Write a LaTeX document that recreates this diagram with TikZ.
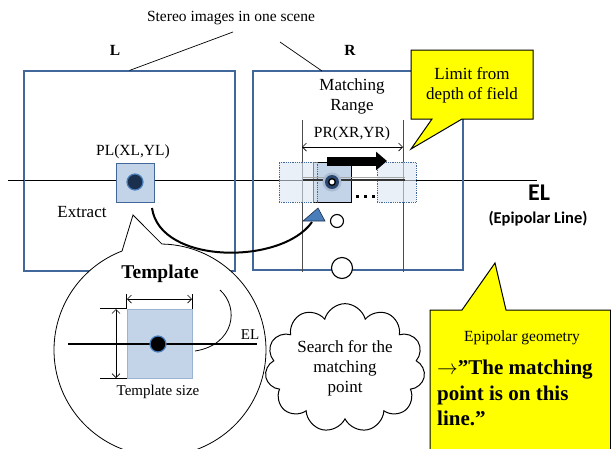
\documentclass[tikz,border=0pt]{standalone}
\usepackage{fontspec}
\setmainfont{Liberation Serif}
\newfontfamily\calibfont{Carlito}
\usetikzlibrary{arrows.meta,shapes.symbols}

\definecolor{frameblue}{HTML}{41679B}
\definecolor{tplblue}{HTML}{C3D4E9}
\definecolor{ghostblue}{HTML}{DCE6F2}
\definecolor{dotnavy}{HTML}{1B2F4E}
\definecolor{tipblue}{HTML}{4A7EBB}
\definecolor{noteyellow}{HTML}{FFFF00}

\begin{document}
\begin{tikzpicture}[x=1pt, y=-1pt,
    imgframe/.style={draw=frameblue, line width=1.1pt, inner sep=0pt},
    tplbox/.style={fill=tplblue, draw=frameblue, line width=0.9pt, inner sep=0pt},
    ghostbox/.style={fill=ghostblue, fill opacity=0.6, draw=frameblue, densely dotted, line width=0.8pt, inner sep=0pt},
    notebox/.style={fill=noteyellow, draw=black, line width=1pt},
    dimarrow/.style={{Straight Barb[length=4pt,width=8pt]}-{Straight Barb[length=4pt,width=8pt]}, line width=0.7pt},
    lbl/.style={font=\fontsize{15.5}{18}\selectfont, inner sep=0pt},
    biglbl/.style={font=\fontsize{17}{20}\selectfont, inner sep=0pt, align=center},
    ]
    % --- Configuration ---
    \def\elY{180}      % height of the epipolar line
    \def\dotR{8}       % radius of the feature dots

    \useasboundingbox (0,0) rectangle (611,448);

    % --- Stereo pair ---
    \node[lbl] (scene) at (231,18) {Stereo images in one scene};
    \node[lbl, font=\fontsize{15.5}{18}\selectfont\bfseries] (Lname) at (115,50) {L};
    \node[lbl, font=\fontsize{15.5}{18}\selectfont\bfseries] (Rname) at (350,50) {R};

    \draw[black, line width=0.8pt] (24,\elY) -- (537,\elY); % epipolar line

    \node[imgframe, minimum width=211pt, minimum height=200pt] (Lbox) at (129.5,171) {};
    \node[imgframe, minimum width=210pt, minimum height=199pt] (Rbox) at (358,170.5) {};
    \draw[black, line width=0.8pt] (8,\elY) -- (24,\elY);

    \coordinate (sceneL) at (233,32);
    \coordinate (sceneR) at (280,42);
    \coordinate (Rtop) at (322,71);
    \draw[line width=0.7pt] (sceneL) -- (Lbox.north);
    \draw[line width=0.7pt] (sceneR) -- (Rtop);

    % --- Left image: point PL ---
    \node[tplbox, minimum width=38pt, minimum height=39pt] (PLbox) at (135,182.5) {};
    \fill[dotnavy, draw=tipblue, line width=1.2pt] (135,182) circle (\dotR);
    \node[lbl] (PLlabel) at (133,152) {PL(XL,YL)};
    \node[biglbl] (extract) at (82,212) {Extract};

    % --- Right image: matching range ---
    \node[biglbl] (range) at (352,96) {Matching\\Range};
    \coordinate (rngL) at (302,120);
    \coordinate (rngR) at (403,120);
    \draw[black!70, line width=0.9pt] (rngL) -- (302,272);
    \draw[black!70, line width=0.9pt] (rngR) -- (403,272);
    \draw[dimarrow] (302,147) -- (403,147);
    \node[lbl] (PRlabel) at (352,134) {PR(XR,YR)};

    \node[tplbox, draw=black, minimum width=38pt, minimum height=40pt] (PRbox) at (332,182) {};
    \node[ghostbox, minimum width=38pt, minimum height=40pt] (ghostL) at (298,182) {};
    \node[ghostbox, minimum width=39pt, minimum height=40pt] (ghostR) at (396.5,182) {};
    \draw[black!35, line width=1pt] (303,177) -- (405,177);
    \draw[black!80, line width=2pt] (303,179.5) -- (405,179.5);

    % glowing dot at PR
    \fill[frameblue!45] (332,182) circle (9.5);
    \fill[dotnavy!60!frameblue] (332,182) circle (7);
    \draw[fill=white, line width=1.3pt] (332,182) circle (3.3);

    % search direction
    \draw[line width=9pt, -{Triangle[length=11pt,width=18pt]}] (327,161) -- (387,161);
    \foreach \k in {0,1,2} {
        \fill (355.5+8*\k,194.5) rectangle ++(3.5,3.5);
    }

    % candidate points
    \node[circle, draw, fill=white, line width=1.1pt, minimum size=13pt, inner sep=0pt] (candA) at (337,221) {};
    \node[circle, draw, fill=white, line width=1.1pt, minimum size=21pt, inner sep=0pt] (candB) at (342,268) {};

    % --- Extract arrow ---
    \coordinate (extFrom) at (152,208);
    \coordinate (extTo) at (312,222);
    \draw[line width=2pt] (extFrom) .. controls (160,265) and (282,265) .. (extTo);
    \filldraw[fill=tipblue, draw=dotnavy, line width=0.6pt] (303,221) -- (318,208) -- (325,221) -- cycle;

    % --- Limit callout ---
    \draw[notebox] (411,50) -- (533,50) -- (533,119) -- (462,119) -- (411,149)
        -- (432,119) -- (411,119) -- cycle;
    \node[biglbl] (limit) at (472,85) {Limit from\\depth of field};

    % --- EL label ---
    \node[inner sep=0pt, font=\calibfont\fontsize{24}{26}\selectfont\bfseries] (ELbig) at (539,193) {EL};
    \node[inner sep=0pt, font=\calibfont\fontsize{16.5}{18}\selectfont\bfseries] (ELsub) at (538,219) {(Epipolar Line)};

    % --- Template callout ---
    \coordinate (tplc) at (160,350);
    \filldraw[fill=white, draw=black, line width=0.8pt]
        (133,215) -- ([shift={(-89:106)}]tplc) arc[start angle=-89, end angle=249, radius=106] -- cycle;
    \node[inner sep=0pt, font=\fontsize{19.5}{22}\selectfont\bfseries] (tplname) at (160,274) {Template};

    \node[tplbox, draw=tplblue!70!frameblue, minimum width=65pt, minimum height=69pt] (tpl) at (159.5,343.5) {};
    \draw[line width=1.5pt] (68,344) -- (257,344);
    \fill[black, draw=tipblue, line width=1.2pt] (158,344) circle (\dotR);
    \node[lbl, font=\fontsize{15}{18}\selectfont] (ELsmall) at (250,335) {EL};
    \draw[line width=0.8pt] (220,290) .. controls (240,308) and (234,345) .. (195,351);

    % template size marks
    \draw[line width=0.7pt] (tpl.north west) -- ++(0,-15);
    \draw[line width=0.7pt] (tpl.north east) -- ++(0,-15);
    \draw[dimarrow] (127,299) -- (192,299);
    \draw[line width=0.7pt] (tpl.north west) -- ++(-27,0);
    \draw[line width=0.7pt] (tpl.south west) -- ++(-27,0);
    \draw[dimarrow] (116,309) -- (116,378);
    \node[lbl, font=\fontsize{15}{18}\selectfont] (tplsize) at (158,392) {Template size};

    % --- Search cloud ---
    \node[cloud, cloud puffs=11, aspect=1.3, draw, fill=white, line width=1pt,
          minimum width=160pt, minimum height=123pt, inner sep=0pt,
          biglbl] (search) at (345,368) {Search for the\\matching\\point};

    % --- Epipolar geometry callout ---
    \draw[notebox] (430,310) -- (462,310) -- (495,263) -- (506,310) -- (610.5,310)
        -- (610.5,450) -- (430,450) -- cycle;
    \node[lbl] (geom) at (522,338) {Epipolar geometry};
    \node[inner sep=0pt, anchor=west, align=left,
          font=\fontsize{21}{25.5}\selectfont\bfseries] (onLine) at (437,393)
          {$\rightarrow$''The matching\\point is on this\\line.''};
\end{tikzpicture}
\end{document}
